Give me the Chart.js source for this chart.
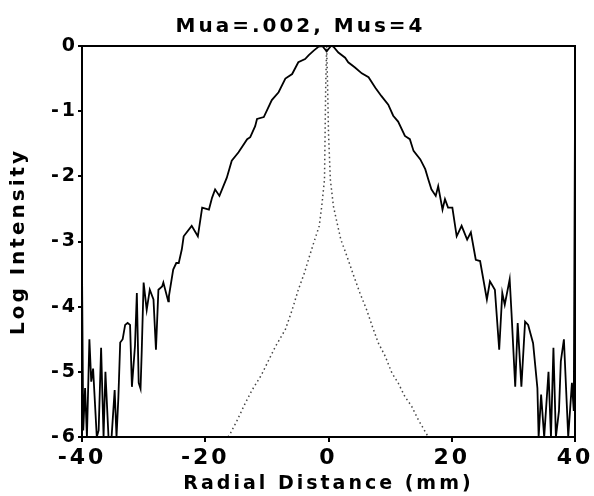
<!DOCTYPE html>
<html>
<head>
<meta charset="utf-8">
<script src="https://cdn.jsdelivr.net/npm/chart.js@4"></script>
<style>
  html, body { margin: 0; padding: 0; background: #fff; }
  #chart { display: block; }
</style>
</head>
<body>
<canvas id="chart" width="594" height="496"></canvas>
<script>
// wide profile (solid)
const wideX = [-40, -39.8, -39.5, -39.2, -38.8, -38.5, -38.2, -37.6, -37.3, -36.9, -36.5, -36.2, -35.7, -35.2,
  -34.7, -34.4, -34.1, -33.8, -33.4, -33.0, -32.6, -32.2, -31.9, -31.4, -31.1, -30.8, -30.5, -30.3, -30.0,
  -29.5, -29.0, -28.4, -28.0, -27.6, -27.0, -26.8, -26.0, -25.9, -25.2, -24.7, -24.3, -23.8, -23.5, -22.2,
  -21.2, -20.5, -19.4, -18.9, -18.4, -17.7, -16.5, -15.7, -14.6, -13.2, -12.7, -11.9, -11.6, -10.5, -9.2,
  -8.1, -7.0, -5.9, -4.9, -3.8, -3.2, -2.4, -1.6, -1.0, -0.3, 0.4, 0.8, 1.6, 2.7, 3.2, 4.3, 5.4, 6.5, 7.6,
  8.6, 9.7, 10.5, 11.3, 12.4, 13.2, 13.8, 14.9, 15.7, 16.2, 16.7, 17.4, 17.8, 18.5, 18.9, 19.4, 20.1, 20.8,
  21.6, 22.5, 23.1, 23.9, 24.6, 25.7, 26.2, 27.0, 27.7, 28.2, 28.6, 29.4, 29.7, 30.3, 30.7, 31.3, 31.9,
  32.4, 33.2, 33.9, 34.1, 34.5, 35.0, 35.7, 36.1, 36.5, 36.9, 37.4, 37.7, 38.2, 38.9, 39.5, 39.8, 40];
const wideY = [-3.4, -5.9, -5.25, -6, -4.5, -5.15, -4.95, -6, -5.9, -4.63, -6, -5.0, -6, -6,
  -5.28, -6, -5.4, -4.55, -4.5, -4.28, -4.25, -4.28, -5.23, -4.6, -3.79, -5.17, -5.26, -4.66, -3.63,
  -4.05, -3.74, -3.89, -4.66, -3.74, -3.69, -3.63, -3.92, -3.84, -3.43, -3.33, -3.33, -3.12, -2.92, -2.76,
  -2.92, -2.48, -2.51, -2.33, -2.2, -2.3, -2.02, -1.76, -1.63, -1.43, -1.4, -1.23, -1.12, -1.09, -0.83,
  -0.71, -0.5, -0.43, -0.25, -0.2, -0.14, -0.07, -0.01, 0, -0.08, 0, -0.01, -0.1, -0.18, -0.25, -0.33, -0.42, -0.48, -0.64,
  -0.77, -0.9, -1.07, -1.16, -1.38, -1.43, -1.61, -1.74, -1.89, -2.05, -2.2, -2.3, -2.15, -2.51, -2.35, -2.48, -2.48, -2.92,
  -2.76, -2.97, -2.86, -3.28, -3.3, -3.89, -3.61, -3.74, -4.66, -3.79, -3.97, -3.58, -4.1, -5.23, -4.25, -5.23, -4.23,
  -4.28, -4.56, -5.25, -6, -5.35, -6, -5.0, -6, -4.63, -6, -5.6, -4.84, -4.5, -6, -5.17, -5.6, -1.0];

// narrow profile (dotted)
const narrowX = [-16.3, -15.9, -14.9, -13.5, -12.4, -10.9, -9.7, -8.6, -7.0, -5.9, -4.9, -3.9, -3.1, -2.4,
  -1.5, -1.1, -0.65, -0.55, -0.45, -0.3, -0.15, 0.0, 0.3, 0.8, 1.5, 2.0, 2.7, 3.0, 4.1, 5.1, 6.2, 7.1,
  8.1, 9.2, 10.3, 11.3, 12.4, 13.5, 14.6, 15.7, 16.2];
const narrowY = [-6, -5.94, -5.76, -5.48, -5.28, -5.05, -4.82, -4.61, -4.35, -4.05, -3.74, -3.48, -3.23, -3.02,
  -2.76, -2.46, -2.05, -1.33, -0.6, 0, -0.6, -1.33, -2.05, -2.46, -2.76, -2.97, -3.15, -3.23, -3.53, -3.79, -4.05, -4.3,
  -4.56, -4.76, -5.02, -5.17, -5.38, -5.53, -5.74, -5.92, -6];

const xTicks = [-40, -20, 0, 20, 40];
const yTicks = [0, -1, -2, -3, -4, -5, -6];

const FONT = 'DejaVu Sans';
const SPACING = '3px';

const toPoints = (xs, ys) => xs.map((x, i) => ({ x: x, y: ys[i] }));

const textSpacing = {
  id: 'textSpacing',
  beforeUpdate(chart) { chart.ctx.letterSpacing = SPACING; },
  beforeDraw(chart) { chart.ctx.letterSpacing = SPACING; }
};

const frame = {
  id: 'frame',
  afterDatasetsDraw(chart) {
    const { ctx, chartArea: a } = chart;
    ctx.save();
    ctx.strokeStyle = '#000';
    ctx.lineWidth = 2;
    ctx.strokeRect(a.left, a.top, a.right - a.left, a.bottom - a.top);
    ctx.restore();
  }
};

new Chart(document.getElementById('chart').getContext('2d'), {
  type: 'line',
  data: {
    datasets: [{
      data: toPoints(wideX, wideY),
      borderColor: '#000',
      borderWidth: 1.8,
      pointRadius: 0,
      tension: 0
    }, {
      data: toPoints(narrowX, narrowY),
      borderColor: '#444',
      borderWidth: 1.5,
      borderDash: [1.5, 3],
      pointRadius: 0,
      tension: 0
    }]
  },
  options: {
    responsive: false,
    animation: false,
    layout: { padding: { left: 26, right: 19, top: 0, bottom: 0 } },
    plugins: {
      legend: { display: false },
      tooltip: { enabled: false },
      title: {
        display: true,
        text: 'Mua=.002, Mus=4',
        color: '#000',
        font: { family: FONT, size: 20, weight: 'bold', lineHeight: 1.2 },
        padding: { top: 15, bottom: 7 }
      }
    },
    scales: {
      x: {
        type: 'linear',
        min: -40,
        max: 40,
        afterBuildTicks: (s) => { s.ticks = xTicks.map(v => ({ value: v })); },
        afterFit: (s) => { s.height = 59; s.paddingLeft = 0; s.paddingRight = 0; },
        grid: { drawOnChartArea: false, drawTicks: true, tickLength: 5, color: '#000', lineWidth: 2 },
        border: { color: '#000', width: 2 },
        ticks: {
          color: '#000',
          padding: 3,
          maxRotation: 0,
          font: { family: FONT, size: 22, weight: 'bold' }
        },
        title: {
          display: true,
          text: 'Radial Distance (mm)',
          color: '#000',
          font: { family: FONT, size: 19, weight: 'bold', lineHeight: 1.2 },
          padding: { top: 0, bottom: 1 }
        }
      },
      y: {
        min: -6,
        max: 0,
        afterBuildTicks: (s) => { s.ticks = yTicks.map(v => ({ value: v })); },
        afterFit: (s) => { s.width = 56; s.paddingTop = 0; s.paddingBottom = 0; },
        grid: { drawOnChartArea: false, drawTicks: true, tickLength: 4, color: '#000', lineWidth: 2 },
        border: { color: '#000', width: 2 },
        ticks: {
          color: '#000',
          padding: 0,
          font: { family: FONT, size: 19, weight: 'bold' }
        },
        title: {
          display: true,
          text: 'Log Intensity',
          color: '#000',
          font: { family: FONT, size: 20, weight: 'bold', lineHeight: 1.2 },
          padding: { top: -19, bottom: 0 }
        }
      }
    }
  },
  plugins: [textSpacing, frame]
});
</script>
</body>
</html>
